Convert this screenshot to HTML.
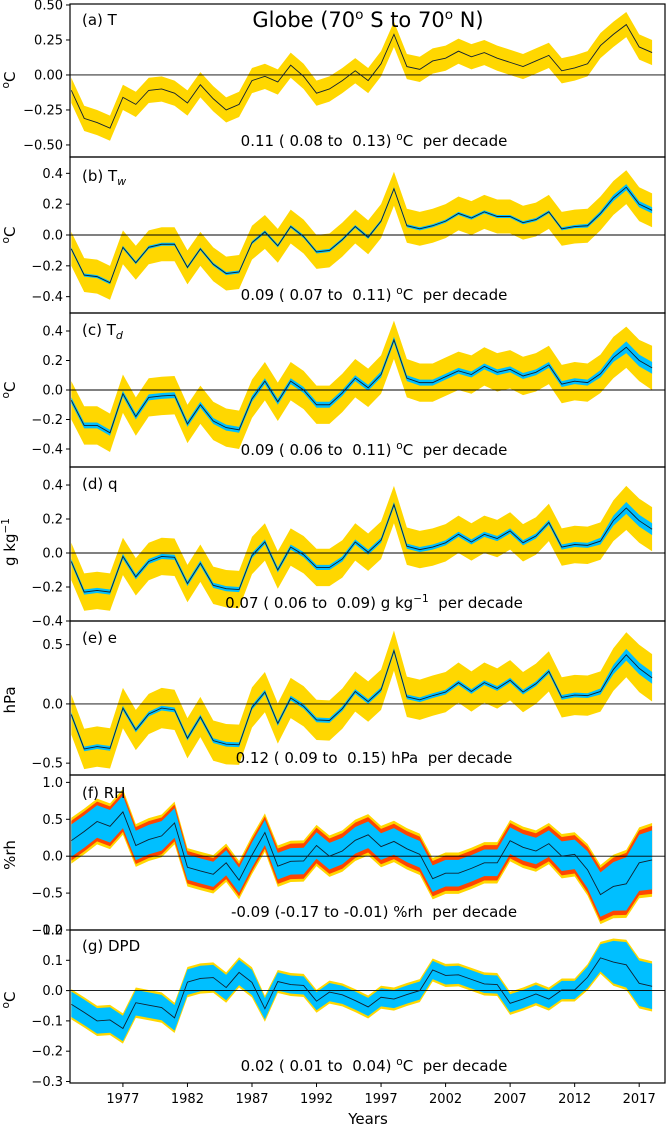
<!DOCTYPE html>
<html><head><meta charset="utf-8"><style>
html,body{margin:0;padding:0;background:#fff;}
svg{display:block;font-family:"DejaVu Sans","Liberation Sans",sans-serif;}
text{white-space:pre;}
</style></head><body>
<svg id="chart" width="667" height="1126" viewBox="0 0 667 1126" xmlns="http://www.w3.org/2000/svg" xml:space="preserve"></svg>
<script>
const years=[];for(let y=1973;y<=2018;y++)years.push(y);
const xTicks=[1977,1982,1987,1992,1997,2002,2007,2012,2017];

const tCenter=[-0.11,-0.31,-0.34,-0.38,-0.16,-0.21,-0.11,-0.10,-0.13,-0.20,-0.07,-0.17,-0.25,-0.21,-0.04,-0.01,-0.05,0.07,-0.01,-0.13,-0.10,-0.04,0.03,-0.04,0.08,0.29,0.06,0.04,0.10,0.12,0.17,0.13,0.16,0.12,0.09,0.06,0.10,0.14,0.03,0.05,0.08,0.21,0.29,0.36,0.20,0.16];
const tOuter=[0.09,0.09,0.09,0.09,0.09,0.09,0.09,0.09,0.09,0.09,0.09,0.09,0.09,0.09,0.09,0.09,0.09,0.09,0.09,0.09,0.09,0.09,0.09,0.09,0.09,0.09,0.09,0.09,0.09,0.09,0.09,0.09,0.09,0.09,0.09,0.09,0.09,0.09,0.09,0.09,0.09,0.09,0.09,0.09,0.09,0.09];

const twCenter=[-0.09,-0.26,-0.27,-0.31,-0.08,-0.18,-0.08,-0.06,-0.06,-0.21,-0.09,-0.19,-0.25,-0.24,-0.05,0.02,-0.07,0.055,-0.01,-0.11,-0.10,-0.03,0.055,-0.015,0.09,0.30,0.06,0.04,0.06,0.09,0.14,0.11,0.15,0.12,0.12,0.08,0.10,0.15,0.04,0.055,0.06,0.14,0.24,0.31,0.20,0.16];
const twInner=[0.01,0.01,0.01,0.01,0.01,0.01,0.01,0.01,0.01,0.01,0.01,0.01,0.01,0.01,0.01,0.01,0.01,0.01,0.01,0.01,0.01,0.01,0.01,0.01,0.01,0.01,0.01,0.01,0.01,0.01,0.01,0.01,0.01,0.01,0.01,0.01,0.01,0.01,0.01,0.01,0.012,0.015,0.02,0.02,0.02,0.02];
const twOuter=[0.11,0.11,0.11,0.11,0.11,0.11,0.11,0.11,0.11,0.11,0.11,0.11,0.11,0.11,0.11,0.11,0.11,0.11,0.11,0.11,0.11,0.11,0.11,0.11,0.11,0.11,0.11,0.11,0.11,0.11,0.11,0.11,0.11,0.11,0.11,0.11,0.11,0.11,0.11,0.11,0.11,0.11,0.11,0.11,0.11,0.11];

const tdCenter=[-0.07,-0.24,-0.24,-0.29,-0.025,-0.18,-0.05,-0.04,-0.035,-0.23,-0.10,-0.21,-0.255,-0.27,-0.06,0.06,-0.08,0.06,0.0,-0.10,-0.10,-0.02,0.08,0.015,0.105,0.34,0.08,0.05,0.05,0.09,0.13,0.105,0.16,0.12,0.14,0.095,0.12,0.17,0.04,0.06,0.05,0.11,0.22,0.29,0.20,0.15];
const tdInner=[0.02,0.02,0.02,0.02,0.02,0.02,0.02,0.02,0.02,0.02,0.02,0.02,0.02,0.02,0.02,0.02,0.02,0.02,0.02,0.02,0.02,0.02,0.02,0.02,0.02,0.02,0.02,0.02,0.02,0.02,0.02,0.02,0.02,0.02,0.02,0.02,0.02,0.02,0.02,0.02,0.02,0.025,0.03,0.04,0.04,0.04];
const tdOuter=[0.13,0.13,0.13,0.13,0.13,0.13,0.13,0.13,0.13,0.13,0.13,0.13,0.13,0.13,0.13,0.13,0.13,0.13,0.13,0.13,0.13,0.13,0.13,0.13,0.13,0.13,0.13,0.13,0.13,0.13,0.13,0.13,0.13,0.13,0.13,0.13,0.13,0.13,0.13,0.13,0.13,0.13,0.14,0.14,0.14,0.15];

const qCenter=[-0.05,-0.23,-0.22,-0.23,-0.02,-0.14,-0.05,-0.02,-0.025,-0.18,-0.06,-0.19,-0.21,-0.215,-0.015,0.065,-0.10,0.035,-0.01,-0.085,-0.085,-0.035,0.065,0.005,0.075,0.285,0.04,0.02,0.035,0.06,0.11,0.065,0.11,0.085,0.13,0.06,0.10,0.18,0.035,0.05,0.045,0.07,0.19,0.265,0.19,0.14];
const qInner=[0.015,0.015,0.015,0.015,0.015,0.015,0.015,0.015,0.015,0.015,0.015,0.015,0.015,0.015,0.015,0.015,0.015,0.015,0.015,0.015,0.015,0.015,0.015,0.015,0.015,0.015,0.015,0.015,0.015,0.015,0.015,0.015,0.015,0.015,0.015,0.015,0.015,0.015,0.015,0.015,0.015,0.02,0.03,0.035,0.035,0.035];
const qOuter=[0.11,0.11,0.11,0.11,0.11,0.11,0.11,0.11,0.11,0.11,0.11,0.11,0.11,0.11,0.11,0.11,0.11,0.11,0.11,0.11,0.11,0.11,0.11,0.11,0.11,0.11,0.11,0.11,0.11,0.11,0.11,0.11,0.11,0.11,0.11,0.11,0.11,0.11,0.11,0.11,0.11,0.11,0.12,0.13,0.13,0.13];

const eCenter=[-0.09,-0.38,-0.36,-0.375,-0.035,-0.22,-0.085,-0.035,-0.05,-0.29,-0.11,-0.31,-0.34,-0.345,-0.03,0.10,-0.165,0.05,-0.02,-0.135,-0.14,-0.04,0.105,0.02,0.12,0.45,0.06,0.035,0.07,0.10,0.18,0.105,0.18,0.13,0.20,0.10,0.17,0.275,0.055,0.075,0.07,0.105,0.29,0.415,0.30,0.22];
const eInner=[0.02,0.02,0.02,0.02,0.02,0.02,0.02,0.02,0.02,0.02,0.02,0.02,0.02,0.02,0.02,0.02,0.02,0.02,0.02,0.02,0.02,0.02,0.02,0.02,0.02,0.02,0.02,0.02,0.02,0.02,0.02,0.02,0.02,0.02,0.02,0.02,0.02,0.02,0.02,0.02,0.02,0.025,0.04,0.05,0.05,0.05];
const eOuter=[0.17,0.17,0.17,0.17,0.17,0.17,0.17,0.17,0.17,0.17,0.17,0.17,0.17,0.17,0.17,0.17,0.17,0.17,0.17,0.17,0.17,0.17,0.17,0.17,0.17,0.17,0.17,0.17,0.17,0.17,0.17,0.17,0.17,0.17,0.17,0.17,0.17,0.17,0.17,0.17,0.17,0.17,0.18,0.19,0.2,0.2];

const rhCenter=[0.21,0.335,0.47,0.405,0.60,0.145,0.225,0.275,0.45,-0.15,-0.20,-0.245,-0.09,-0.325,0.015,0.32,-0.135,-0.07,-0.065,0.145,0.0,0.07,0.215,0.29,0.13,0.20,0.10,0.025,-0.305,-0.23,-0.23,-0.165,-0.09,-0.09,0.21,0.12,0.07,0.17,0.0,0.025,-0.185,-0.52,-0.41,-0.375,-0.09,-0.05];
const rhInner=[0.22,0.22,0.22,0.22,0.22,0.2,0.2,0.2,0.2,0.17,0.17,0.17,0.17,0.17,0.17,0.17,0.18,0.18,0.18,0.18,0.18,0.18,0.18,0.18,0.18,0.18,0.18,0.18,0.18,0.18,0.18,0.18,0.18,0.18,0.18,0.18,0.18,0.18,0.2,0.2,0.25,0.3,0.33,0.36,0.38,0.4];
const rhMid=[0.27,0.27,0.27,0.27,0.27,0.25,0.25,0.25,0.25,0.22,0.22,0.22,0.22,0.22,0.22,0.22,0.24,0.24,0.24,0.24,0.24,0.24,0.24,0.24,0.24,0.24,0.24,0.24,0.24,0.24,0.24,0.24,0.24,0.24,0.24,0.24,0.24,0.24,0.26,0.26,0.31,0.36,0.39,0.42,0.44,0.46];
const rhOuter=[0.31,0.31,0.31,0.31,0.31,0.29,0.29,0.29,0.29,0.26,0.26,0.26,0.26,0.26,0.26,0.26,0.28,0.28,0.28,0.28,0.28,0.28,0.28,0.28,0.28,0.28,0.28,0.28,0.28,0.28,0.28,0.28,0.28,0.28,0.28,0.28,0.28,0.28,0.3,0.3,0.35,0.4,0.43,0.46,0.48,0.5];

const dpdCenter=[-0.045,-0.072,-0.10,-0.097,-0.125,-0.04,-0.048,-0.056,-0.09,0.028,0.04,0.043,0.01,0.06,0.027,-0.06,0.03,0.02,0.017,-0.035,-0.005,-0.014,-0.033,-0.054,-0.022,-0.028,-0.013,0.0,0.068,0.05,0.052,0.037,0.022,0.02,-0.042,-0.028,-0.011,-0.028,0.002,0.002,0.044,0.108,0.094,0.085,0.024,0.014];
const dpdInner=[0.042,0.042,0.042,0.042,0.042,0.042,0.042,0.042,0.042,0.042,0.042,0.042,0.042,0.042,0.042,0.035,0.03,0.03,0.03,0.03,0.03,0.03,0.03,0.03,0.03,0.03,0.03,0.03,0.03,0.03,0.03,0.03,0.03,0.03,0.03,0.03,0.03,0.03,0.03,0.03,0.035,0.045,0.07,0.075,0.075,0.075];
const dpdOuter=[0.05,0.05,0.05,0.05,0.05,0.05,0.05,0.05,0.05,0.05,0.05,0.05,0.05,0.05,0.05,0.043,0.038,0.038,0.038,0.038,0.038,0.038,0.038,0.038,0.038,0.038,0.038,0.038,0.038,0.038,0.038,0.038,0.038,0.038,0.038,0.038,0.038,0.038,0.038,0.038,0.043,0.053,0.078,0.083,0.083,0.083];

const NS="http://www.w3.org/2000/svg";
const svg=document.getElementById('chart');
const X0=70,X1=665,XMIN=1972.9,XMAX=2019.0;
function xs(v){return X0+(v-XMIN)/(XMAX-XMIN)*(X1-X0);}
function mk(tag,attrs,parent){const e=document.createElementNS(NS,tag);for(const k in attrs)e.setAttribute(k,attrs[k]);(parent||svg).appendChild(e);return e;}

const panels=[
 {id:'t',top:4,bot:157,ymin:-0.586,ymax:0.507,ticks:[0.5,0.25,0,-0.25,-0.5],tl:['0.50','0.25','0.00','\u22120.25','\u22120.50'],c:tCenter,inner:null,mid:null,outer:tOuter,label:'(a) T',sub:'',unit:'oC',trend:'0.11 ( 0.08 to  0.13) ',tunit:'oC',ly:20,ty:141,uy:80},
 {id:'tw',top:157,bot:313,ymin:-0.506,ymax:0.506,ticks:[0.4,0.2,0,-0.2,-0.4],tl:['0.4','0.2','0.0','\u22120.2','\u22120.4'],c:twCenter,inner:twInner,mid:null,outer:twOuter,label:'(b) T',sub:'w',unit:'oC',trend:'0.09 ( 0.07 to  0.11) ',tunit:'oC',ly:176,ty:295,uy:235},
 {id:'td',top:313,bot:467,ymin:-0.522,ymax:0.522,ticks:[0.4,0.2,0,-0.2,-0.4],tl:['0.4','0.2','0.0','\u22120.2','\u22120.4'],c:tdCenter,inner:tdInner,mid:null,outer:tdOuter,label:'(c) T',sub:'d',unit:'oC',trend:'0.09 ( 0.06 to  0.11) ',tunit:'oC',ly:330,ty:450,uy:390},
 {id:'q',top:467,bot:621,ymin:-0.4,ymax:0.506,ticks:[0.4,0.2,0,-0.2,-0.4],tl:['0.4','0.2','0.0','\u22120.2','\u22120.4'],c:qCenter,inner:qInner,mid:null,outer:qOuter,label:'(d) q',sub:'',unit:'gkg',trend:'0.07 ( 0.06 to  0.09) ',tunit:'gkg',ly:484,ty:603,uy:542},
 {id:'e',top:621,bot:775,ymin:-0.60,ymax:0.70,ticks:[0.5,0,-0.5],tl:['0.5','0.0','\u22120.5'],c:eCenter,inner:eInner,mid:null,outer:eOuter,label:'(e) e',sub:'',unit:'hPa',trend:'0.12 ( 0.09 to  0.15) ',tunit:'hPa',ly:638,ty:758,uy:700},
 {id:'rh',top:775,bot:930,ymin:-1.0,ymax:1.1,ticks:[1.0,0.5,0,-0.5,-1.0],tl:['1.0','0.5','0.0','\u22120.5','\u22121.0'],c:rhCenter,inner:rhInner,mid:rhMid,outer:rhOuter,label:'(f) RH',sub:'',unit:'%rh',trend:'-0.09 (-0.17 to -0.01) ',tunit:'%rh',ly:793,ty:912,uy:855},
 {id:'dpd',top:930,bot:1083,ymin:-0.305,ymax:0.2,ticks:[0.2,0.1,0,-0.1,-0.2,-0.3],tl:['0.2','0.1','0.0','\u22120.1','\u22120.2','\u22120.3'],c:dpdCenter,inner:dpdInner,mid:null,outer:dpdOuter,label:'(g) DPD',sub:'',unit:'oC',trend:'0.02 ( 0.01 to  0.04) ',tunit:'oC',ly:946,ty:1066,uy:1000}
];

const defs=mk('defs',{});
function unitMarkup(u){
 if(u==='oC')return '<tspan baseline-shift="super" font-size="70%">o</tspan>C';
 if(u==='gkg')return 'g kg<tspan baseline-shift="super" font-size="70%">\u22121</tspan>';
 return u;
}
panels.forEach(p=>{
 const ys=v=>p.bot-(v-p.ymin)/(p.ymax-p.ymin)*(p.bot-p.top);
 const g=mk('g',{});
 
 
 const cp=mk('clipPath',{id:'clip-'+p.id},defs);
 mk('rect',{x:X0,y:p.top,width:X1-X0,height:p.bot-p.top},cp);
 const plot=mk('g',{'clip-path':'url(#clip-'+p.id+')'},g);
 function band(hw,color,name){
  let d='';
  years.forEach((yr,i)=>{d+=(i?'L':'M')+xs(yr).toFixed(2)+','+ys(p.c[i]+hw[i]).toFixed(2);});
  for(let i=years.length-1;i>=0;i--){d+='L'+xs(years[i]).toFixed(2)+','+ys(p.c[i]-hw[i]).toFixed(2);}
  const e=mk('path',{d:d+'Z',fill:color,stroke:'none'},plot);
  
  
 }
 band(p.outer,'#FFD700',p.id+'-outer-band');
 if(p.mid)band(p.mid,'#FF4500',p.id+'-mid-band');
 if(p.inner)band(p.inner,'#00BFFF',p.id+'-inner-band');
 const zl=mk('line',{x1:X0,x2:X1,y1:ys(0),y2:ys(0),stroke:'#000','stroke-width':0.9},plot);
 
 
 let d='';years.forEach((yr,i)=>{d+=(i?'L':'M')+xs(yr).toFixed(2)+','+ys(p.c[i]).toFixed(2);});
 const ln=mk('path',{d:d,fill:'none',stroke:'#102030','stroke-width':0.9},plot);
 
 
 const fr=mk('rect',{x:X0,y:p.top,width:X1-X0,height:p.bot-p.top,fill:'none',stroke:'#000','stroke-width':1.2},g);
 
 
 p.ticks.forEach((t,i)=>{
  const y=ys(t);
  mk('line',{x1:X0-4,x2:X0,y1:y,y2:y,stroke:'#000','stroke-width':1},g);
  const tx=mk('text',{x:X0-7,y:y+4.5,'font-size':13,'text-anchor':'end',fill:'#000'},g);
  tx.textContent=p.tl[i];
  
  
 });
 const lb=mk('text',{x:82,y:p.ly+5,'font-size':15,fill:'#000'},g);
 lb.innerHTML=p.label+(p.sub?'<tspan font-size="11" font-style="italic" dy="4">'+p.sub+'</tspan>':'');
 
 
 const tr=mk('text',{x:374,y:p.ty+5,'font-size':15,'text-anchor':'middle',fill:'#000'},g);
 tr.innerHTML=p.trend+unitMarkup(p.tunit)+'  per decade';
 
 
 const ut=mk('text',{x:0,y:0,'font-size':15,'text-anchor':'middle',fill:'#000',transform:'translate(15,'+p.uy+') rotate(-90)'},g);
 ut.innerHTML=unitMarkup(p.unit);
 
 
});

xTicks.forEach(t=>{
 const x=xs(t);
 mk('line',{x1:x,x2:x,y1:1083,y2:1087,stroke:'#000','stroke-width':1});
 const tx=mk('text',{x:x,y:1103,'font-size':13,'text-anchor':'middle',fill:'#000'});
 tx.textContent=String(t);
 
 
});
const xt=mk('text',{x:368,y:1124,'font-size':15,'text-anchor':'middle',fill:'#000'});
xt.textContent='Years';


const ti=mk('text',{x:368,y:27,'font-size':21,'text-anchor':'middle',fill:'#000'});
ti.innerHTML='Globe (70<tspan baseline-shift="super" font-size="65%">o</tspan> S to 70<tspan baseline-shift="super" font-size="65%">o</tspan> N)';


</script>
</body></html>
